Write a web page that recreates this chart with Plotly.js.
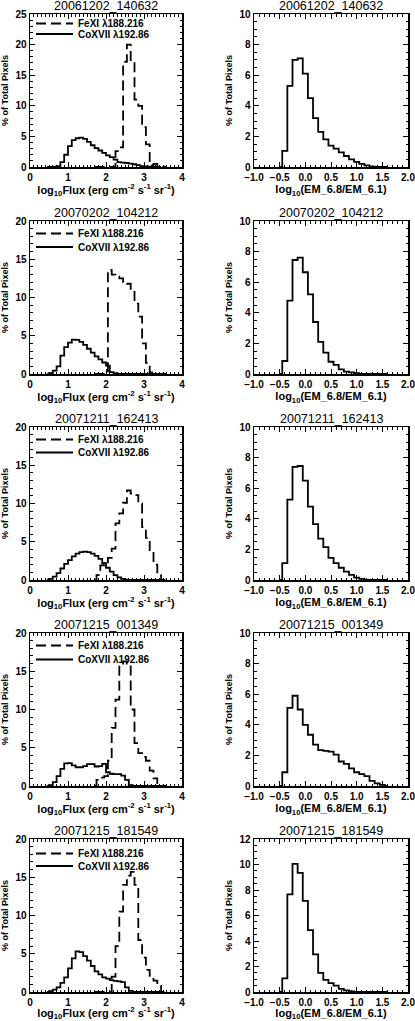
<!DOCTYPE html>
<html>
<head>
<meta charset="utf-8">
<script src="https://cdn.plot.ly/plotly-3.0.1.min.js"></script>
<style>
  html, body { margin: 0; padding: 0; background: #fff; }
  #chart { width: 415px; height: 1021px; }
</style>
</head>
<body>
<div id="chart"></div>
<script>
// ==================== data ====================
const obsIds = ['20061202_140632', '20070202_104212', '20071211_162413', '20071215_001349', '20071215_181549'];

// bin centres
const feX = [1.7, 1.8, 1.9, 2.0, 2.1, 2.2, 2.3, 2.4, 2.5, 2.6, 2.7, 2.8, 2.9, 3.0, 3.1, 3.2, 3.3, 3.4, 3.5, 3.6];
const coX = [0.45, 0.55, 0.65, 0.75, 0.85, 0.95, 1.05, 1.15, 1.25, 1.35, 1.45, 1.55, 1.65, 1.75, 1.85, 1.95,
             2.05, 2.15, 2.25, 2.35, 2.45, 2.55, 2.65, 2.75, 2.85, 2.95, 3.05, 3.15, 3.25, 3.35, 3.45];
const emX = [-0.5, -0.4, -0.3, -0.2, -0.1, 0.0, 0.1, 0.2, 0.3, 0.4, 0.5, 0.6, 0.7, 0.8, 0.9, 1.0, 1.1,
             1.2, 1.3, 1.4, 1.5, 1.6];

// % of total pixels, FeXI 188.216 (dashed)
const fe1 = [0, 0, 0, 0, 0, 0, 2.6, 3.2, 17.2, 20.0, 17.2, 11.0, 10.0, 6.5, 3.7, 0.3, 0.5, 0, 0, 0];
const fe2 = [0, 0, 0, 0, 13.6, 13.0, 12.75, 12.5, 12.0, 11.8, 10.9, 9.2, 7.5, 4.0, 1.45, 0.2, 0, 0, 0, 0];
const fe3 = [0, 0.65, 1.9, 2.0, 2.9, 4.1, 7.4, 8.7, 10.1, 11.7, 11.3, 11.1, 10.0, 6.9, 5.5, 3.9, 2.0, 0.6, 0, 0];
const fe4 = [0, 0.8, 1.1, 1.3, 3.3, 7.6, 11.3, 15.6, 16.3, 16.0, 10.0, 5.6, 4.3, 3.8, 3.3, 2.0, 1.0, 0, 0, 0];
const fe5 = [0, 0, 0, 0, 0, 2.0, 6.0, 10.5, 14.0, 15.2, 15.7, 14.0, 6.8, 4.5, 2.9, 2.0, 1.5, 0.8, 0, 0];

// % of total pixels, CoXVII 192.86 (solid)
const co1 = [0, 0, 0, 0.15, 0.8, 2.0, 3.4, 4.4, 4.7, 4.8, 4.6, 4.1, 3.55, 3.1, 2.7, 2.3,
             1.9, 1.6, 1.2, 0.8, 0.7, 0.65, 0.55, 0.45, 0.3, 0.15, 0.1, 0.05, 0, 0, 0];
const co2 = [0, 0.1, 0.45, 1.0, 2.4, 3.5, 4.1, 4.5, 4.45, 4.2, 3.8, 3.3, 2.8, 2.3, 1.9, 1.5,
             1.1, 0.25, 0.1, 0, 0, 0, 0, 0, 0, 0, 0, 0, 0, 0, 0];
const co3 = [0.05, 0.15, 0.45, 0.9, 1.5, 2.1, 2.6, 3.1, 3.45, 3.65, 3.7, 3.65, 3.45, 3.15, 2.75, 2.2,
             1.6, 1.1, 0.65, 0.35, 0.15, 0.05, 0, 0, 0, 0, 0, 0, 0, 0, 0];
const co4 = [0, 0.1, 0.5, 1.3, 2.25, 2.95, 3.0, 2.7, 2.45, 2.45, 2.6, 2.85, 2.85, 2.55, 2.6, 2.9,
             1.8, 1.6, 1.55, 1.55, 1.35, 0.8, 0.1, 0, 0, 0, 0, 0, 0, 0, 0];
const co5 = [0, 0.1, 0.3, 0.6, 1.2, 1.9, 3.1, 4.4, 5.3, 5.2, 4.7, 4.1, 3.4, 2.7, 2.3, 1.9,
             1.75, 1.55, 1.45, 1.4, 1.3, 0.6, 0.15, 0, 0, 0, 0, 0, 0, 0, 0];

// % of total pixels, log10(EM_6.8/EM_6.1)
const em1 = [0, 1.05, 5.3, 7.0, 7.1, 6.1, 4.5, 3.2, 2.3, 1.8, 1.4, 1.2, 0.95, 0.72, 0.5, 0.33, 0.2, 0.1, 0.03, 0, 0, 0];
const em2 = [0, 0.85, 4.8, 7.45, 7.6, 6.65, 5.2, 3.4, 2.1, 1.4, 0.8, 0.6, 0.3, 0.15, 0.1, 0.05, 0, 0, 0, 0, 0, 0];
const em3 = [0, 1.1, 5.25, 7.4, 7.45, 6.5, 4.8, 3.65, 2.7, 2.15, 1.45, 1.1, 0.8, 0.55, 0.33, 0.15, 0.07, 0, 0, 0, 0, 0];
const em4 = [0, 0.9, 5.1, 5.9, 5.0, 4.0, 3.35, 2.7, 2.35, 2.3, 2.25, 2.05, 1.6, 1.45, 1.15, 0.9, 0.77, 0.65, 0.33, 0.17, 0.08, 0];
const em5 = [0, 1.07, 7.65, 10.05, 9.35, 7.15, 4.85, 2.95, 1.5, 0.95, 0.7, 0.5, 0.25, 0.12, 0.05, 0, 0, 0, 0, 0, 0, 0];

const feRows = [fe1, fe2, fe3, fe4, fe5];
const coRows = [co1, co2, co3, co4, co5];
const emRows = [em1, em2, em3, em4, em5];
const fluxYMax = [25, 20, 20, 20, 20];
const emYMax = [10, 10, 10, 10, 12];

// ==================== layout ====================
const W = 415, H = 1021;
const rowTop = [14, 221, 427, 633, 839];
const boxH = 153;
const leftBox = [30, 182];
const rightBox = [254, 408];
const legendOff = [[9.5, 20], [12.5, 26], [12.5, 25.5], [12.5, 26.5], [14.5, 27]];
const FONT = 'Liberation Sans, Arial, sans-serif';

function baseAxis(extra) {
  return Object.assign({
    showline: true, linecolor: '#000', linewidth: 1.5, mirror: 'ticks',
    ticks: 'inside', ticklen: 5, tickwidth: 1, tickcolor: '#000',
    showgrid: false, zeroline: false, fixedrange: true, ticklabeloverflow: 'allow',
    tickfont: { family: FONT, size: 10, color: '#000', weight: 'bold' }
  }, extra);
}

const traces = [];
const layout = {
  width: W, height: H,
  margin: { l: 0, r: 0, t: 0, b: 0 },
  paper_bgcolor: '#fff', plot_bgcolor: '#fff',
  font: { family: FONT, color: '#000' },
  showlegend: true,
  annotations: []
};

const dashStyle = '10px,5px';

for (let r = 0; r < 5; r++) {
  const li = 2 * r + 1, ri = 2 * r + 2;
  const yDom = [1 - (rowTop[r] + boxH) / H, 1 - rowTop[r] / H];
  const legA = 'legend' + (li === 1 ? '' : li);
  const legB = 'legend' + ri;

  traces.push({
    x: feX, y: feRows[r], xaxis: 'x' + li, yaxis: 'y' + li,
    type: 'scatter', mode: 'lines', line: { shape: 'hvh', color: '#000', width: 1.8, dash: dashStyle },
    name: 'FeXI λ188.216', legend: legA, hoverinfo: 'skip'
  });
  traces.push({
    x: coX, y: coRows[r], xaxis: 'x' + li, yaxis: 'y' + li,
    type: 'scatter', mode: 'lines', line: { shape: 'hvh', color: '#000', width: 1.8 },
    name: 'CoXVII λ192.86', legend: legB, hoverinfo: 'skip'
  });
  traces.push({
    x: emX, y: emRows[r], xaxis: 'x' + ri, yaxis: 'y' + ri,
    type: 'scatter', mode: 'lines', line: { shape: 'hvh', color: '#000', width: 1.8 },
    showlegend: false, hoverinfo: 'skip'
  });

  const legStyle = {
    xanchor: 'left', yanchor: 'middle', x: (leftBox[0] + 1) / W,
    bgcolor: 'rgba(0,0,0,0)', borderwidth: 0, itemwidth: 37,
    font: { family: FONT, size: 10, color: '#000', weight: 'bold' }
  };
  layout[legA] = Object.assign({ y: 1 - (rowTop[r] + legendOff[r][0]) / H }, legStyle);
  layout[legB] = Object.assign({ y: 1 - (rowTop[r] + legendOff[r][1]) / H }, legStyle);

  layout['xaxis' + li] = baseAxis({
    domain: [leftBox[0] / W, leftBox[1] / W], anchor: 'y' + li,
    range: [0, 4], tick0: 0, dtick: 1,
    minor: { dtick: 0.1, ticks: 'inside', ticklen: 2.5, tickcolor: '#000', tickwidth: 1 },
    title: { text: 'log<sub>10</sub>Flux (erg cm<sup>-2</sup> s<sup>-1</sup> sr<sup>-1</sup>)',
             font: { family: FONT, size: 11, weight: 'bold' }, standoff: 4 }
  });
  layout['yaxis' + li] = baseAxis({
    domain: yDom, anchor: 'x' + li,
    range: [0, fluxYMax[r]], tick0: 0, dtick: 5,
    minor: { dtick: 1, ticks: 'inside', ticklen: 2.5, tickcolor: '#000', tickwidth: 1 },
    title: { text: '% of Total Pixels', font: { family: FONT, size: 9, weight: 'bold' }, standoff: 5 }
  });
  layout['xaxis' + ri] = baseAxis({
    domain: [rightBox[0] / W, rightBox[1] / W], anchor: 'y' + ri,
    range: [-1, 2], tick0: -1, dtick: 0.5, tickformat: '.1f',
    minor: { dtick: 0.1, ticks: 'inside', ticklen: 2.5, tickcolor: '#000', tickwidth: 1 },
    title: { text: 'log<sub>10</sub>(EM_6.8/EM_6.1)', font: { family: FONT, size: 11, weight: 'bold' }, standoff: 4 }
  });
  layout['yaxis' + ri] = baseAxis({
    domain: yDom, anchor: 'x' + ri,
    range: [0, emYMax[r]], tick0: 0, dtick: 2,
    minor: { dtick: 0.5, ticks: 'inside', ticklen: 2.5, tickcolor: '#000', tickwidth: 1 },
    title: { text: '% of Total Pixels', font: { family: FONT, size: 9, weight: 'bold' }, standoff: 5 }
  });

  [li, ri].forEach(i => {
    layout.annotations.push({
      text: obsIds[r], showarrow: false,
      xref: 'x' + i + ' domain', yref: 'y' + i + ' domain', x: 0.5, y: 1,
      xanchor: 'center', yanchor: 'middle', yshift: 8,
      font: { family: FONT, size: 12.5, color: '#000' }
    });
  });
}

Plotly.newPlot('chart', traces, layout, { displayModeBar: false, staticPlot: true });
</script>
</body>
</html>
